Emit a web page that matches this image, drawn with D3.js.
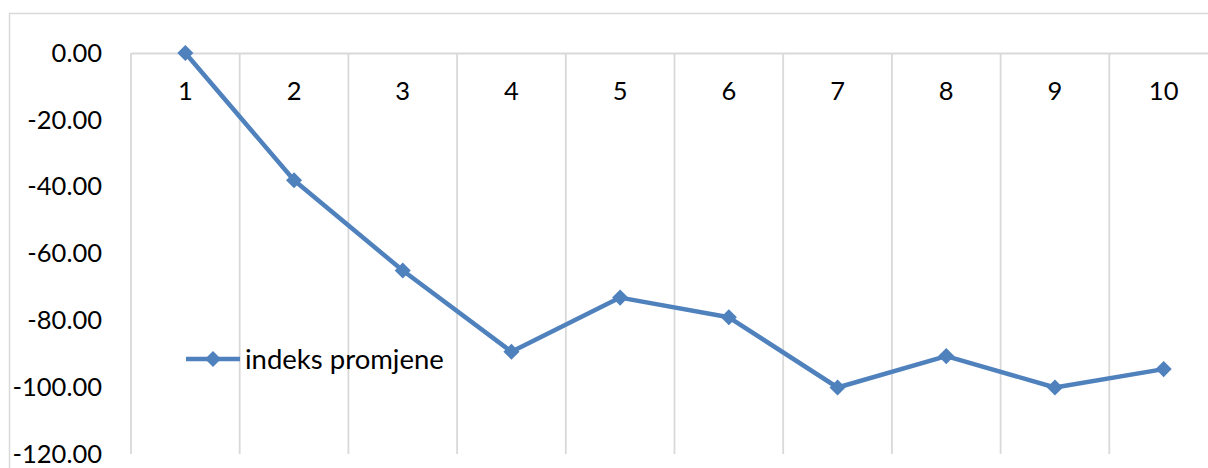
<!DOCTYPE html>
<html>
<head>
<meta charset="utf-8">
<script src="https://cdn.jsdelivr.net/npm/d3@7"></script>
<style>
  body { margin: 0; background: #fff; }
  text { font-family: Lato, "Open Sans", sans-serif; fill: #000; }
</style>
</head>
<body>
<svg id="chart" width="1208" height="468"></svg>
<script>
const categories = ['1', '2', '3', '4', '5', '6', '7', '8', '9', '10']
const values = [0, -38.1, -65.1, -89.4, -73.2, -79.1, -100.1, -90.7, -100.1, -94.6]
const yTicks = [0, -20, -40, -60, -80, -100, -120]
const seriesName = 'indeks promjene'

const margin = { top: 53, left: 131 }
const width = 1087
const height = 401
const blue = '#4f81bd'
const grid = '#d9d9d9'

const svg = d3.select('#chart')

// chart frame (runs off the right and bottom edge)
svg.append('rect')
    .attr('x', 9.5).attr('y', 13.5)
    .attr('width', 1240).attr('height', 500)
    .attr('fill', 'none')
    .attr('stroke', grid)
    .attr('stroke-width', 1.5)

const g = svg.append('g').attr('transform', `translate(${margin.left}, ${margin.top})`)

const xScale = d3.scaleBand().domain(categories).range([0, width]).padding(0)
const yScale = d3.scaleLinear().domain([-120, 0]).range([height, 0])

// vertical gridlines on category boundaries
g.selectAll('.vgrid')
    .data(categories)
    .enter()
    .append('line')
    .attr('class', 'vgrid')
    .attr('x1', d => xScale(d)).attr('x2', d => xScale(d))
    .attr('y1', 0).attr('y2', height)
    .attr('stroke', grid)
    .attr('stroke-width', 1.8)

// y axis
const yAxis = d3.axisLeft(yScale).tickValues(yTicks).tickSize(0).tickPadding(29)
    .tickFormat(d => d.toFixed(2))
g.append('g')
    .attr('class', 'y axis')
    .call(yAxis)
    .call(a => a.select('.domain').remove())
    .selectAll('text')
    .attr('font-size', 25.5)
    .attr('font-family', 'Lato, "Open Sans", sans-serif')

// x axis crosses at 0 (top)
const xAxis = d3.axisBottom(xScale).tickSizeInner(0).tickSizeOuter(0).tickPadding(29)
const xg = g.append('g')
    .attr('class', 'x axis')
    .attr('transform', `translate(0,${yScale(0)})`)
    .call(xAxis)
xg.select('.domain').attr('stroke', grid).attr('stroke-width', 1.8)
xg.selectAll('text')
    .attr('font-size', 25.5)
    .attr('font-family', 'Lato, "Open Sans", sans-serif')

// series line
g.append('path')
    .datum(values)
    .attr('fill', 'none')
    .attr('stroke', blue)
    .attr('stroke-width', 4.5)
    .attr('stroke-linejoin', 'round')
    .attr('d', d3.line()
        .x((d, i) => xScale(categories[i]) + xScale.bandwidth() / 2)
        .y(d => yScale(d)))

const diamond = d3.symbol().type(d3.symbolDiamond2).size(165)
g.selectAll('.marker')
    .data(values)
    .enter()
    .append('path')
    .attr('class', 'marker')
    .attr('transform', (d, i) => `translate(${xScale(categories[i]) + xScale.bandwidth() / 2},${yScale(d)})`)
    .attr('d', diamond)
    .attr('fill', blue)

// legend
const legend = svg.append('g').attr('transform', 'translate(186, 359)')
legend.append('line')
    .attr('x1', 0).attr('x2', 54)
    .attr('stroke', blue).attr('stroke-width', 4.5)
legend.append('path')
    .attr('transform', 'translate(27,0)')
    .attr('d', diamond)
    .attr('fill', blue)
legend.append('text')
    .attr('x', 59).attr('dy', '0.35em')
    .attr('font-size', 27.5)
    .text(seriesName)
</script>
</body>
</html>
